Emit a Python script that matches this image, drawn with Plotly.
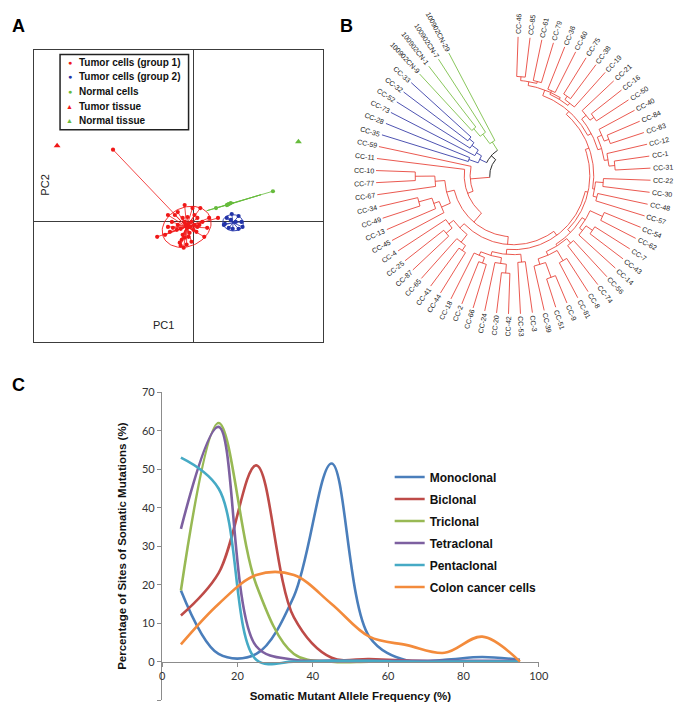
import numpy as np
import plotly.graph_objects as go

W, H = 685, 707
OFF = 8  # page body margin in the browser
FONT = "Liberation Sans, Arial, sans-serif"

# ---------------- Panel A data (PCA scores) ----------------
g1_x = [-2.6, -2.2, -2.6, -3.7, -2.9, -1.7, -0.9, -1.6, -1.1, -0.1, 0.7, 0.4, 0.9, 1.6, 2.5,
        0.1, -0.6, -1.1, -1.2, -0.7, -0.2, -1.6, -2.1, 0.3, 1.1, -0.9, -0.2, -0.4, -1.0, -1.4,
        0.4, -1.9, -2.4, -0.6, 0.1, 0.6, 1.4, -0.5, -0.3, -0.8, -1.3, 0.0, -0.5, -0.9, -1.3]
g1_y = [0.7, 0.0, -0.5, -1.5, -1.3, -0.8, 1.7, 1.0, 0.4, 1.4, 1.4, 0.4, 0.0, 0.4, 0.4,
        -0.3, -0.6, -1.3, -1.8, -2.3, -2.0, -0.3, -0.6, -1.0, -1.5, 0.0, 0.0, -1.1, -2.6, -2.1,
        -0.5, 0.7, -1.0, 0.5, 0.7, -0.3, -0.6, -0.2, -0.5, -0.3, -0.7, -0.8, -1.5, -1.6, -2.4]
g1_far_x = [-8.2]
g1_far_y = [7.3]
g2_x = [3.2, 3.4, 3.9, 4.6, 4.9, 5.0, 4.6, 4.0, 3.6, 4.3, 3.8, 3.1]
g2_y = [-0.2, 0.4, 0.8, 0.6, 0.0, -0.5, -0.7, -0.7, -0.6, 0.0, 0.2, -0.3]
nc_x = [8.1, 3.6, 3.4, 3.8, 3.5, 2.3]
nc_y = [3.1, 1.8, 1.7, 1.9, 1.75, 1.4]
tt_x, tt_y = [-13.9], [7.7]
nt_x, nt_y = [10.7], [8.1]

# ---------------- Panel B data (dendrogram, node radial depth) ----------------
TOP = (86, [(92, [(96, [(100, ["CC-46", "CC-85"]), (98, ["CC-61", "CC-79"])]),
                  (90, [(94, ["CC-36", "CC-60"]), (93, [(97, ["CC-75", "CC-38"]), "CC-19"])])]),
            (90, [(96, ["CC-21", (101, ["CC-16", "CC-50"])]),
                  (94, [(99, ["CC-40", (104, ["CC-84", "CC-83"])]),
                        (98, ["CC-12", (104, ["CC-1", "CC-31"])])])])])
RIGHT = (84, [(92, ["CC-22", "CC-30"]), (88, ["CC-48", "CC-57"])])
RIGHTBOTTOM = (82, [(86, [(100, ["CC-54", "CC-62"]), (90, [(98, ["CC-7", "CC-43"]), "CC-14"])]),
                    (84, [(90, ["CC-56", "CC-74"]),
                          (88, [(100, ["CC-8", "CC-81"]), (94, [(110, ["CC-9", "CC-51"]), "CC-39"])])])])
BOTTOM = (80, [(88, ["CC-3", "CC-53"]),
               (84, [(90, [(99, ["CC-42", "CC-20"]), "CC-24"]), (88, [(94, ["CC-66", "CC-2"]), "CC-18"])])])
BOTTOMLEFT = (76, [(86, [(92, ["CC-44", "CC-41"]), "CC-65"]), (82, [(90, ["CC-87", "CC-25"]), "CC-4"])])
LEFT = (70, [(80, ["CC-45", (86, ["CC-13", (100, ["CC-49", "CC-34"])])]),
             (80, ["CC-67", (100, ["CC-77", "CC-10"])])])
RED = (44, [(50, [(62, [(70, [(75, [(78, [(82, [TOP, RIGHT]), RIGHTBOTTOM]), BOTTOM]), BOTTOMLEFT]), LEFT]),
                  "CC-11"]), "CC-59"])
BLUE = (38, [(48, ["CC-35", "CC-28"]), (44, ["CC-73", (52, ["CC-52", (58, ["CC-32", "CC-33"])])])])
GREEN = (40, [(52, [(62, ["100902CN-9", "100902CN-1"]), "100902CN-7"]), "100902CN-29"])
GB = (30, [BLUE, GREEN])
ROOT = (24, [RED, GB])

# ---------------- Panel C data ----------------
freq = [5, 15, 25, 35, 45, 55, 65, 75, 85, 95]
series_names = ["Monoclonal", "Biclonal", "Triclonal", "Tetraclonal", "Pentaclonal", "Colon cancer cells"]
monoclonal = [18.5, 2.0, 2.0, 17.0, 51.5, 6.5, 0.3, 0.5, 1.2, 0.5]
biclonal = [12.0, 23.0, 51.0, 11.5, 1.0, 0.7, 0.3, 0.0, 0.0, 0.0]
triclonal = [18.5, 62.0, 20.0, 2.0, 0.0, 0.0, 0.0, 0.0, 0.0, 0.0]
tetraclonal = [34.5, 61.0, 4.0, 0.5, 0.3, 0.2, 0.2, 0.2, 0.2, 0.2]
pentaclonal = [53.0, 45.0, 0.5, 0.0, 0.2, 0.2, 0.0, 0.0, 0.0, 0.0]
colon = [4.5, 15.0, 22.5, 22.5, 15.0, 6.5, 4.3, 2.3, 6.5, 0.0]
series_vals = [monoclonal, biclonal, triclonal, tetraclonal, pentaclonal, colon]
series_cols = ["#4A7EBB", "#BE4B48", "#98B954", "#7D60A0", "#46AAC5", "#F38B3C"]
x_ticks = [0, 20, 40, 60, 80, 100]
y_ticks = [-10, 0, 10, 20, 30, 40, 50, 60, 70]


def fx(px):
    return (px - OFF) / W


def fy(py):
    return 1 - (py - OFF) / H


fig = go.Figure()

# ================= Panel A =================
RED_C, BLUE_C, GREEN_C = "#F01818", "#2233A8", "#66BB3C"


def ellipse(xs, ys, k=1.5, n=90):
    xs, ys = np.asarray(xs), np.asarray(ys)
    c = np.cov(np.vstack([xs, ys]), ddof=0)
    vals, vecs = np.linalg.eigh(c)
    t = np.linspace(0, 2 * np.pi, n)
    pts = vecs @ (np.sqrt(vals)[:, None] * k * np.vstack([np.cos(t), np.sin(t)]))
    return xs.mean() + pts[0], ys.mean() + pts[1]


def star(xs, ys, cx, cy):
    sx, sy = [], []
    for x, y in zip(xs, ys):
        sx += [cx, x, None]
        sy += [cy, y, None]
    return sx, sy


groups = [
    (g1_x, g1_y, g1_far_x, g1_far_y, RED_C, 2.0),
    (g2_x, g2_y, [], [], BLUE_C, 1.7),
    (nc_x, nc_y, [], [], GREEN_C, 1.5),
]
for gx, gy, fxs, fys, col, k in groups:
    cx, cy = float(np.mean(gx)), float(np.mean(gy))
    ex, ey = ellipse(gx, gy, k)
    fig.add_trace(go.Scatter(x=ex, y=ey, mode="lines", line=dict(color=col, width=0.9),
                             xaxis="x", yaxis="y", showlegend=False, hoverinfo="skip"))
    sx, sy = star(list(gx) + list(fxs), list(gy) + list(fys), cx, cy)
    fig.add_trace(go.Scatter(x=sx, y=sy, mode="lines", line=dict(color=col, width=0.8),
                             xaxis="x", yaxis="y", showlegend=False, hoverinfo="skip"))
    fig.add_trace(go.Scatter(x=list(gx) + list(fxs), y=list(gy) + list(fys), mode="markers",
                             marker=dict(color=col, size=4.2), xaxis="x", yaxis="y", showlegend=False))
fig.add_trace(go.Scatter(x=tt_x, y=tt_y, mode="markers", marker=dict(symbol="triangle-up", color=RED_C, size=6),
                         xaxis="x", yaxis="y", showlegend=False))
fig.add_trace(go.Scatter(x=nt_x, y=nt_y, mode="markers", marker=dict(symbol="triangle-up", color=GREEN_C, size=6),
                         xaxis="x", yaxis="y", showlegend=False))

# ================= Panel B =================
R_TIP = 140
leaves = []


def collect(node):
    if isinstance(node, str):
        leaves.append(node)
    else:
        for ch in node[1]:
            collect(ch)


collect(ROOT)
leaf_angle = {name: 88 - 5 * i for i, name in enumerate(leaves)}
clade_col = {id(RED): "#E8463C", id(BLUE): "#3A3FA8", id(GREEN): "#7CC04A"}
segs = {}


def add_seg(col, xs, ys):
    s = segs.setdefault(col, ([], []))
    s[0].extend(list(xs) + [None])
    s[1].extend(list(ys) + [None])


def layout_node(node, col):
    if isinstance(node, str):
        return leaf_angle[node], R_TIP
    r, kids = node
    angs = []
    for ch in kids:
        ccol = clade_col.get(id(ch), col)
        a, rc = layout_node(ch, ccol)
        t = np.radians(a)
        add_seg(ccol, [r * np.cos(t), rc * np.cos(t)], [r * np.sin(t), rc * np.sin(t)])
        angs.append(a)
    a0, a1 = min(angs), max(angs)
    tt = np.radians(np.linspace(a0, a1, max(2, int(a1 - a0) + 2)))
    add_seg(col, r * np.cos(tt), r * np.sin(tt))
    return float(np.mean(angs)), r


layout_node(ROOT, "#111111")
for col, (xs, ys) in segs.items():
    fig.add_trace(go.Scatter(x=xs, y=ys, mode="lines", line=dict(color=col, width=0.9),
                             xaxis="x2", yaxis="y2", showlegend=False, hoverinfo="skip"))

CW = {"C": 0.722, "N": 0.722, "-": 0.333}
LAB_SIZE = 7
annotations = []
for name in leaves:
    a = leaf_angle[name]
    w = sum(CW.get(ch, 0.556) for ch in name) * LAB_SIZE
    rr = R_TIP + 2.5 + w / 2
    t = np.radians(a)
    an = ((a + 180) % 360) - 180
    ta = -an if -90 <= an <= 90 else 180 - an
    ta = ((ta + 180) % 360) - 180
    annotations.append(dict(x=rr * np.cos(t), y=rr * np.sin(t), xref="x2", yref="y2", text=name,
                            showarrow=False, textangle=ta, xanchor="center", yanchor="middle",
                            font=dict(family=FONT, size=LAB_SIZE, color="#222")))

# ================= Panel C =================
for nm, vals, col in zip(series_names, series_vals, series_cols):
    fig.add_trace(go.Scatter(x=freq, y=vals, mode="lines", name="<b>%s</b>" % nm,
                             line=dict(color=col, width=2.6, shape="spline"),
                             xaxis="x3", yaxis="y3", legend="legend2", legendgroup=nm))

# ---- panel A legend (text) ----
legA = [("●", RED_C, "Tumor cells (group 1)", 56), ("●", BLUE_C, "Tumor cells (group 2)", 70),
        ("●", GREEN_C, "Normal cells", 85), ("▲", RED_C, "Tumor tissue", 100), ("▲", GREEN_C, "Normal tissue", 115)]
for sym, col, txt, py in legA:
    annotations.append(dict(x=fx(68), y=fy(py), xref="paper", yref="paper", text=sym, showarrow=False,
                            xanchor="center", yanchor="middle", font=dict(family=FONT, size=7, color=col)))
    annotations.append(dict(x=fx(75), y=fy(py), xref="paper", yref="paper", text="<b>%s</b>" % txt, showarrow=False,
                            xanchor="left", yanchor="middle", font=dict(family=FONT, size=10, color="#111")))


def label(px, py, text, size, angle=0, color="#000"):
    return dict(x=fx(px), y=fy(py), xref="paper", yref="paper", text=text, textangle=angle, showarrow=False,
                xanchor="center", yanchor="middle", font=dict(family=FONT, size=size, color=color))


annotations += [
    label(43, 180, "PC2", 11, -90, "#222"),
    label(163, 321, "PC1", 11, 0, "#222"),
    label(16, 19, "<b>A</b>", 18),
    label(350, 19, "<b>B</b>", 18),
    label(16, 382, "<b>C</b>", 18),
]

shapes = [dict(type="rect", xref="paper", yref="paper", x0=fx(58), x1=fx(189), y0=fy(124), y1=fy(48),
               line=dict(color="#222", width=1.5))]

FRAME = "#3C3C3C"
y3_dom = [fy(700), fy(389)]
x3_pos = y3_dom[0] + (0 - y_ticks[0]) / (70 - y_ticks[0]) * (y3_dom[1] - y3_dom[0])
AX_GRAY = "#8C8C8C"

B_CX, B_CY = 520, 170  # dendrogram centre (page pixels)
B_LEFT, B_TOP, B_BOTTOM = 340, OFF, 340
fig.update_layout(
    width=W, height=H, margin=dict(l=0, r=0, t=0, b=0),
    paper_bgcolor="white", plot_bgcolor="rgba(0,0,0,0)",
    annotations=annotations, shapes=shapes,
    xaxis=dict(domain=[fx(31), fx(326)], range=[-16.3, 13.2], anchor="y", showline=True, mirror=True,
               linecolor=FRAME, linewidth=1.3, zeroline=True, zerolinecolor=FRAME, zerolinewidth=1.3,
               showgrid=False, showticklabels=False, ticks=""),
    yaxis=dict(domain=[fy(338), fy(43)], range=[-12.1, 17.4], anchor="x", showline=True, mirror=True,
               linecolor=FRAME, linewidth=1.3, zeroline=True, zerolinecolor=FRAME, zerolinewidth=1.3,
               showgrid=False, showticklabels=False, ticks=""),
    xaxis2=dict(domain=[fx(B_LEFT), 1], range=[B_LEFT - B_CX, B_LEFT + W * (1 - fx(B_LEFT)) - B_CX],
                anchor="y2", visible=False),
    yaxis2=dict(domain=[fy(B_BOTTOM), 1], range=[B_CY - B_BOTTOM, B_CY - B_TOP], anchor="x2", visible=False),
    xaxis3=dict(domain=[fx(162), fx(546)], range=[0, 100], anchor="free", position=x3_pos,
                tickvals=x_ticks, ticks="outside", ticklen=4, tickcolor=AX_GRAY, showline=True,
                linecolor=AX_GRAY, linewidth=1.3, showgrid=False, zeroline=False,
                tickfont=dict(family="Lato, Open Sans, sans-serif", size=11, color="#333"),
                title=dict(text="<b>Somatic Mutant Allele Frequency (%)</b>", standoff=10,
                           font=dict(family=FONT, size=11.5, color="#111"))),
    yaxis3=dict(domain=y3_dom, range=[-10, 70], anchor="x3", tickvals=y_ticks,
                ticktext=[""] + [str(v) for v in y_ticks[1:]], ticks="outside", ticklen=4, tickcolor=AX_GRAY,
                showline=True, linecolor=AX_GRAY, linewidth=1.3, showgrid=False, zeroline=False,
                tickfont=dict(family="Lato, Open Sans, sans-serif", size=11, color="#333"),
                title=dict(text="<b>Percentage of Sites of Somatic Mutations (%)</b>", standoff=12,
                           font=dict(family=FONT, size=11.5, color="#111"))),
    legend2=dict(x=fx(394), y=fy(460), xanchor="left", yanchor="top", bgcolor="rgba(0,0,0,0)",
                 font=dict(family=FONT, size=12, color="#111"), itemwidth=30, tracegroupgap=3,
                 traceorder="grouped"),
)

fig.write_html("out.html")
